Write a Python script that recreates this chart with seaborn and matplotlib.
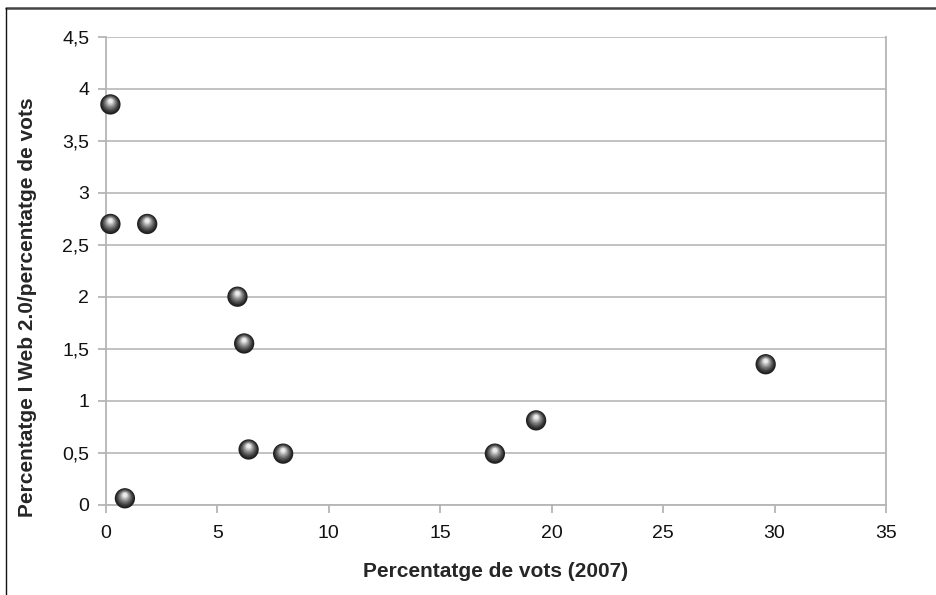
import matplotlib
matplotlib.use("Agg")
import matplotlib.pyplot as plt
import matplotlib.transforms as mtransforms
from matplotlib.lines import Line2D
import seaborn as sns
import pandas as pd

# values
vots_2007 = [0.2, 0.2, 1.85, 5.9, 6.2, 6.4, 7.95, 0.85, 17.45, 19.3, 29.6]
web20_ratio = [3.85, 2.7, 2.7, 2.0, 1.55, 0.53, 0.49, 0.06, 0.49, 0.81, 1.35]
x_ticks = [0, 5, 10, 15, 20, 25, 30, 35]
y_ticks = [0, 0.5, 1, 1.5, 2, 2.5, 3, 3.5, 4, 4.5]
y_ticklabels = ["0", "0,5", "1", "1,5", "2", "2,5", "3", "3,5", "4", "4,5"]

df = pd.DataFrame({"x": vots_2007, "y": web20_ratio})

sns.set_style("white")
plt.rcParams["font.family"] = ["Liberation Sans", "DejaVu Sans"]

fig = plt.figure(figsize=(9.36, 5.95), dpi=100)
ax = fig.add_axes([0.1132, 0.152, 0.8334, 0.786])

# fake the shaded sphere markers with stacked circles, dark at the rim, light near the top
diam = 14.6  # points
layers = 9
for k in range(layers):
    t = k / (layers - 1)
    d = diam * (1 - 0.78 * t)
    shade = 0.12 + 0.80 * t ** 1.3
    dy = diam * 0.16 * t / 72.0
    sns.scatterplot(data=df, x="x", y="y", ax=ax, s=d ** 2, color=str(shade),
                    edgecolor="none", linewidth=0, legend=False, zorder=3 + k)
    coll = ax.collections[-1]
    coll.set_offset_transform(ax.transData + mtransforms.ScaledTranslation(0, dy, fig.dpi_scale_trans))
    coll.set_clip_on(False)

ax.set_xlim(0, 35)
ax.set_ylim(0, 4.5)
ax.set_xticks(x_ticks)
ax.set_xticklabels([str(v) for v in x_ticks])
ax.set_yticks(y_ticks)
ax.set_yticklabels(y_ticklabels)

ax.yaxis.grid(True, color="#bdbdbd", linewidth=1.3)
ax.xaxis.grid(False)
for side in ["left", "bottom", "right"]:
    ax.spines[side].set_visible(True)
    ax.spines[side].set_color("#b5b5b5")
    ax.spines[side].set_linewidth(1.3)
ax.spines["top"].set_visible(False)

ax.tick_params(axis="both", direction="out", length=6, width=1.3, color="#b5b5b5",
               labelsize=14, labelcolor="#111111")
ax.tick_params(axis="x", pad=9)
ax.tick_params(axis="y", pad=6)
ax.tick_params(bottom=True, left=True)

ax.set_xlabel("Percentatge de vots (2007)", fontsize=15, fontweight="bold", labelpad=14)
ax.set_ylabel("Percentatge I Web 2.0/percentatge de vots", fontsize=15, fontweight="bold",
              va="center")
# the original label sits a bit below the middle of the axis
ax.yaxis.set_label_coords(-0.101, 0.4226)

# outer frame of the original chart (top and left only)
fig.add_artist(Line2D([6 / 936, 1], [1 - 8 / 595, 1 - 8 / 595], transform=fig.transFigure,
                      color="#444444", linewidth=1.8))
fig.add_artist(Line2D([6 / 936, 6 / 936], [1 - 8 / 595, 0], transform=fig.transFigure,
                      color="#111111", linewidth=1.0))

fig.savefig("out.png", dpi=100)
